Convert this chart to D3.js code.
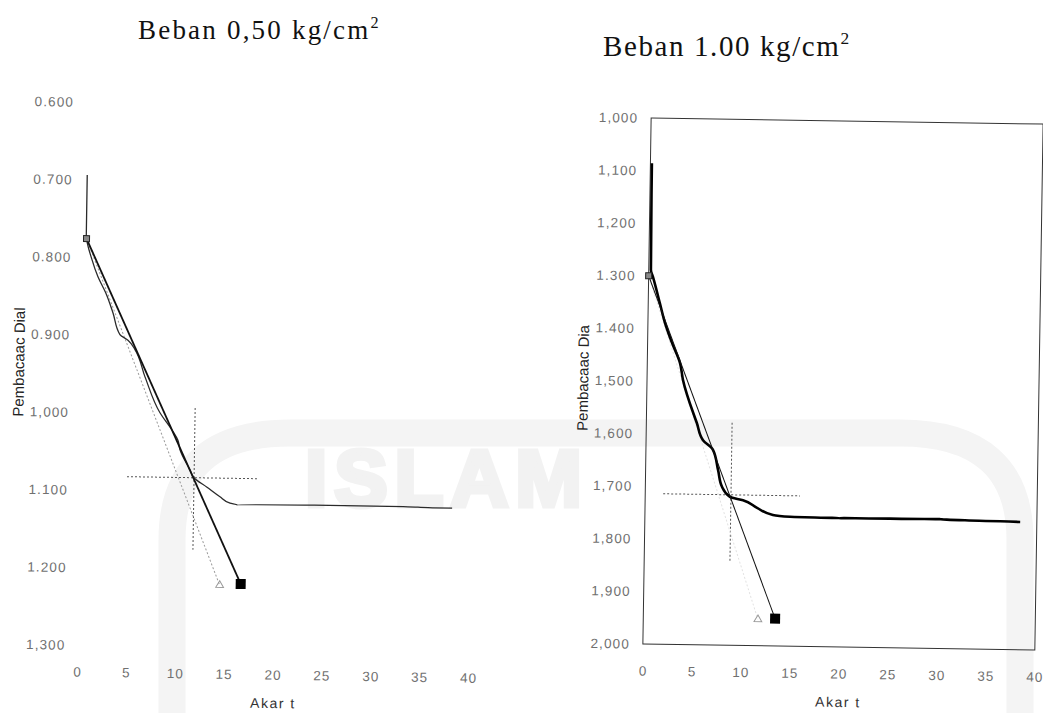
<!DOCTYPE html>
<html>
<head>
<meta charset="utf-8">
<script src="https://cdn.jsdelivr.net/npm/d3@7"></script>
<style>
  html, body { margin: 0; padding: 0; background: #fff; }
  svg { display: block; }
</style>
</head>
<body>
<svg id="chart" width="1043" height="713"></svg>
<script>
// ---------- Beban 0,50 kg/cm2 : dial reading against square root of time ----------
const leftAkarT = [0.25, 0.25, 0.87, 1.51, 2.35, 3.10, 3.85, 4.68, 5.41, 6.48, 8.07, 9.43, 9.95, 10.17, 11.23, 11.65, 13.00, 14.34, 15.38, 16.10, 24.0, 33.1, 36.1, 38.1];
const leftDial  = [0.694, 0.771, 0.803, 0.825, 0.846, 0.871, 0.899, 0.906, 0.918, 0.953, 0.999, 1.023, 1.034, 1.046, 1.072, 1.082, 1.094, 1.106, 1.114, 1.116, 1.115, 1.115, 1.116, 1.116];
// first tangent (triangle) and 1.15x line (square)
const leftTriAkarT = [0.28, 14.45];
const leftTriDial  = [0.776, 1.220];
const leftSqAkarT  = [0.28, 16.60];
const leftSqDial   = [0.776, 1.218];
// t90 crosshair
const leftT90AkarT = 11.66, leftT90Dial = 1.082;
const leftCrossV = [0.992, 1.175];   // dial range of vertical guide
const leftCrossH = [4.8, 18.1];      // akar t range of horizontal guide
const leftYTicks  = [0.6, 0.7, 0.8, 0.9, 1.0, 1.1, 1.2, 1.3];
const leftYLabels = ["0.600", "0.700", "0.800", "0.900", "1,000", "1.100", "1.200", "1,300"];

// ---------- Beban 1.00 kg/cm2 ----------
const rightAkarT = [0.15, 0.22, 0.44, 1.19, 1.74, 2.49, 3.34, 3.67, 5.16, 5.81, 6.84, 7.39, 7.82, 8.65, 9.99, 11.43, 13.06, 14.81, 19.9, 30.1, 38.3];
const rightDial  = [1.086, 1.289, 1.302, 1.352, 1.389, 1.427, 1.465, 1.497, 1.579, 1.611, 1.629, 1.667, 1.699, 1.718, 1.724, 1.738, 1.751, 1.754, 1.755, 1.754, 1.757];
const rightTriAkarT = [0, 11.7];
const rightTriDial  = [1.300, 1.950];
const rightSqAkarT  = [0, 13.45];
const rightSqDial   = [1.300, 1.948];
const rightT90AkarT = 8.75, rightT90Dial = 1.714;
const rightCrossV = [1.577, 1.842];
const rightCrossH = [1.83, 15.8];
const rightYTicks  = [1.0, 1.1, 1.2, 1.3, 1.4, 1.5, 1.6, 1.7, 1.8, 1.9, 2.0];
const rightYLabels = ["1,000", "1,100", "1,200", "1.300", "1.400", "1,500", "1,600", "1,700", "1,800", "1,900", "2,000"];

const xTicks = [0, 5, 10, 15, 20, 25, 30, 35, 40];

const svg = d3.select("#chart");

// ---------- faint watermark of the scanned page ----------
const wm = svg.append("g").attr("class", "watermark");
wm.append("path")
  .attr("d", "M172,713 L172,540 Q172,433 290,433 L900,433 Q1020,433 1020,540 L1020,713")
  .attr("fill", "none").attr("stroke", "#f4f4f4").attr("stroke-width", 27);
wm.append("text")
  .attr("x", 305).attr("y", 506)
  .attr("font-family", "Liberation Sans, Arial, sans-serif")
  .attr("font-weight", "bold").attr("font-size", 80)
  .attr("letter-spacing", 7)
  .attr("fill", "#f2f2f2").attr("stroke", "#f2f2f2").attr("stroke-width", 5)
  .text("ISLAM");

// ---------- titles ----------
function title(x, y, size, spacing, main) {
  const t = svg.append("text")
    .attr("x", x).attr("y", y)
    .attr("font-family", "Liberation Serif, Times New Roman, serif")
    .attr("font-size", size).attr("letter-spacing", spacing)
    .attr("fill", "#111");
  t.append("tspan").text(main);
  t.append("tspan").attr("font-size", size * 0.6).attr("dy", -size * 0.42).text("2");
}
title(138, 39, 27, 2.2, "Beban 0,50 kg/cm");
title(603, 56, 29, 1.6, "Beban 1.00 kg/cm");

const tickFont = "Liberation Sans, Arial, sans-serif";

function drawChart(cfg) {
  const g = svg.append("g").attr("transform", `rotate(0.9, ${cfg.cx}, ${cfg.cy})`);
  const x = cfg.x, y = cfg.y;

  if (cfg.frame) {
    g.append("rect")
      .attr("x", x(0)).attr("y", y(cfg.yDomain[0]))
      .attr("width", x(40) - x(0)).attr("height", y(cfg.yDomain[1]) - y(cfg.yDomain[0]))
      .attr("fill", "none").attr("stroke", "#333").attr("stroke-width", 1);
  }

  // y axis labels
  const yAxis = d3.axisLeft(y).tickValues(cfg.yTicks)
    .tickFormat((d, i) => cfg.yLabels[i]).tickSize(0).tickPadding(cfg.yPad);
  const ya = g.append("g").attr("transform", `translate(${x(0)},0)`).call(yAxis);
  ya.select(".domain").remove();
  ya.selectAll("text").attr("font-family", tickFont).attr("font-size", 13.5)
    .attr("letter-spacing", 1.1).attr("fill", "#707070");

  // x axis labels
  const xAxis = d3.axisBottom(x).tickValues(xTicks).tickFormat(d3.format("d"))
    .tickSize(0).tickPadding(cfg.xPad);
  const xa = g.append("g").attr("transform", `translate(0,${y(cfg.yDomain[1])})`).call(xAxis);
  xa.select(".domain").remove();
  xa.selectAll("text").attr("font-family", tickFont).attr("font-size", 13.5)
    .attr("letter-spacing", 1).attr("fill", "#707070");

  // axis titles
  g.append("text")
    .attr("x", cfg.xTitle[0]).attr("y", cfg.xTitle[1])
    .attr("text-anchor", "middle")
    .attr("font-family", tickFont).attr("font-size", 14).attr("letter-spacing", 1.5)
    .attr("fill", "#333").text("Akar t");
  g.append("text")
    .attr("transform", `translate(${cfg.yTitle[0]},${cfg.yTitle[1]}) rotate(-90)`)
    .attr("text-anchor", "middle").attr("dy", "0.35em")
    .attr("font-family", tickFont).attr("font-size", cfg.yTitleSize)
    .attr("fill", "#222").text(cfg.yTitleText);

  const line = d3.line().x(d => x(d[0])).y(d => y(d[1]));
  const pairs = (a, b) => a.map((v, i) => [v, b[i]]);

  // crosshair guides at t90
  g.append("path")
    .attr("d", line([[cfg.t90x, cfg.crossV[0]], [cfg.t90x, cfg.crossV[1]]]))
    .attr("stroke", "#555").attr("stroke-width", 1).attr("stroke-dasharray", "2,2").attr("fill", "none");
  g.append("path")
    .attr("d", line([[cfg.crossH[0], cfg.t90y], [cfg.crossH[1], cfg.t90y]]))
    .attr("stroke", "#555").attr("stroke-width", 1).attr("stroke-dasharray", "2,2").attr("fill", "none");

  // first tangent line (triangle)
  g.append("path")
    .attr("d", line(pairs(cfg.triX, cfg.triY)))
    .attr("stroke", cfg.triColor).attr("stroke-width", 1).attr("stroke-dasharray", "2,2").attr("fill", "none");

  // measured curve
  g.append("path")
    .attr("d", line.curve(d3.curveMonotoneY)(pairs(cfg.curveX, cfg.curveY)))
    .attr("stroke", cfg.curveColor).attr("stroke-width", cfg.curveWidth).attr("fill", "none")
    .attr("stroke-linejoin", "round");
  line.curve(d3.curveLinear);

  // 1.15x line (square)
  g.append("path")
    .attr("d", line(pairs(cfg.sqX, cfg.sqY)))
    .attr("stroke", "#111").attr("stroke-width", cfg.sqWidth).attr("fill", "none");

  // marker at the start of both lines
  g.append("rect")
    .attr("x", x(cfg.sqX[0]) - 3).attr("y", y(cfg.sqY[0]) - 3)
    .attr("width", 6).attr("height", 6)
    .attr("fill", "#888").attr("stroke", "#222").attr("stroke-width", 1);
  // square marker at the end of the 1.15x line
  g.append("rect")
    .attr("x", x(cfg.sqX[1]) - 5).attr("y", y(cfg.sqY[1]) - 5)
    .attr("width", 10).attr("height", 10).attr("fill", "#000");
  // triangle marker at the end of the first tangent
  const sym = d3.symbol().type(d3.symbolTriangle).size(26);
  g.append("path")
    .attr("transform", `translate(${x(cfg.triX[1])},${y(cfg.triY[1])})`)
    .attr("d", sym()).attr("fill", "none").attr("stroke", "#999").attr("stroke-width", 1);
}

drawChart({
  cx: 270, cy: 380,
  x: d3.scaleLinear([0, 40], [81.6, 472.7]),
  y: d3.scaleLinear([0.6, 1.3], [105, 648]),
  yDomain: [0.6, 1.3], yTicks: leftYTicks, yLabels: leftYLabels,
  yPad: 12, xPad: 22, frame: false,
  xTitle: [278, 708], yTitle: [18.7, 366], yTitleSize: 15, yTitleText: "Pembacaac Dial",
  curveX: leftAkarT, curveY: leftDial, curveColor: "#2a2a2a", curveWidth: 1.3,
  triX: leftTriAkarT, triY: leftTriDial, triColor: "#9a9a9a",
  sqX: leftSqAkarT, sqY: leftSqDial, sqWidth: 1.8,
  t90x: leftT90AkarT, t90y: leftT90Dial, crossV: leftCrossV, crossH: leftCrossH
});

drawChart({
  cx: 843, cy: 383,
  x: d3.scaleLinear([0, 40], [647, 1039]),
  y: d3.scaleLinear([1.0, 2.0], [121, 647]),
  yDomain: [1.0, 2.0], yTicks: rightYTicks, yLabels: rightYLabels,
  yPad: 13, xPad: 22, frame: true,
  xTitle: [843, 707], yTitle: [583, 382], yTitleSize: 15, yTitleText: "Pembacaac Dia",
  curveX: rightAkarT, curveY: rightDial, curveColor: "#000", curveWidth: 2.6,
  triX: rightTriAkarT, triY: rightTriDial, triColor: "#e2e2e2",
  sqX: rightSqAkarT, sqY: rightSqDial, sqWidth: 1,
  t90x: rightT90AkarT, t90y: rightT90Dial, crossV: rightCrossV, crossH: rightCrossH
});
</script>
</body>
</html>
